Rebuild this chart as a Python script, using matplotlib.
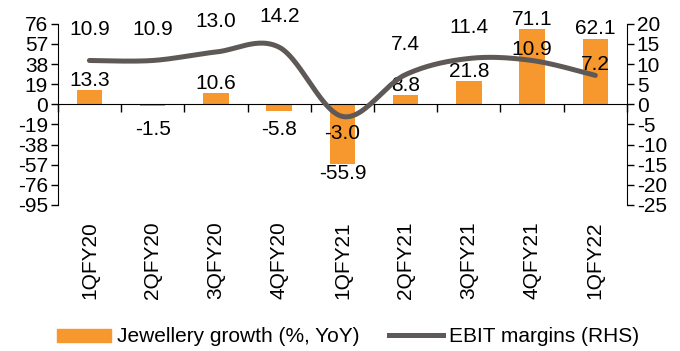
import numpy as np
import matplotlib
matplotlib.use("Agg")
import matplotlib.pyplot as plt
from matplotlib.patches import Patch
from matplotlib.lines import Line2D
import matplotlib.transforms as mtransforms

plt.rcParams['font.family'] = ['Liberation Sans', 'DejaVu Sans']
plt.rcParams['font.size'] = 15
plt.rcParams['axes.unicode_minus'] = False

quarters = ['1QFY20', '2QFY20', '3QFY20', '4QFY20', '1QFY21', '2QFY21', '3QFY21', '4QFY21', '1QFY22']
jewellery_growth = [13.3, -1.5, 10.6, -5.8, -55.9, 8.8, 21.8, 71.1, 62.1]
ebit_margin = [10.9, 10.9, 13.0, 14.2, -3.0, 7.4, 11.4, 10.9, 7.2]
left_ticks = [76, 57, 38, 19, 0, -19, -38, -57, -76, -95]
right_ticks = [20, 15, 10, 5, 0, -5, -10, -15, -20, -25]

# label offsets for the margin labels (points, + is up)
ebit_label_dy = [22, 22, 22, 22, -12, 22, 22, 8, 8]

orange = '#F7982F'
grey = '#5E5956'

fig = plt.figure(figsize=(6.8, 3.51), dpi=100)
ax = fig.add_axes([0.085, 0.416, 0.837, 0.516])
ax2 = ax.twinx()

x = np.arange(len(quarters))
ax.bar(x, jewellery_growth, width=0.4, color=orange, zorder=2)
ax.set_xlim(-0.5, len(quarters) - 0.5)
ax.set_ylim(min(left_ticks), max(left_ticks))
ax.set_yticks(left_ticks)
ax.tick_params(axis='y', direction='out', length=5, width=1, pad=2)

# x axis line at zero with ticks between categories
ax.spines['bottom'].set_position(('data', 0))
ax.spines['top'].set_visible(False)
ax.spines['right'].set_visible(False)
ax.set_xticks(np.arange(len(quarters) + 1) - 0.5)
ax.set_xticklabels([])
ax.tick_params(axis='x', direction='out', length=6, width=1)

trans = mtransforms.blended_transform_factory(ax.transData, ax.transAxes)
for i, q in enumerate(quarters):
    ax.text(i, -0.09, q, rotation=90, ha='center', va='top', transform=trans)

for i, v in enumerate(jewellery_growth):
    if v >= 0:
        ax.annotate(f'{v:.1f}', (i, v), xytext=(0, 7), textcoords='offset points',
                    ha='center', va='center', zorder=4)
    else:
        ax.annotate(f'{v:.1f}', (i, min(v, -15)), xytext=(0, -7), textcoords='offset points',
                    ha='center', va='center', zorder=4)

# smoothed line (bezier through the points, like a spreadsheet smooth line)
pts = np.column_stack([x, ebit_margin]).astype(float)
ext = np.vstack([pts[0], pts, pts[-1]])
curve = []
t = np.linspace(0, 1, 30)[:, None]
for i in range(len(pts) - 1):
    p0, p3 = ext[i + 1], ext[i + 2]
    p1 = p0 + (ext[i + 2] - ext[i]) / 6
    p2 = p3 - (ext[i + 3] - ext[i + 1]) / 6
    seg = (1 - t) ** 3 * p0 + 3 * (1 - t) ** 2 * t * p1 + 3 * (1 - t) * t ** 2 * p2 + t ** 3 * p3
    curve.append(seg)
curve = np.vstack(curve)
ax2.plot(curve[:, 0], curve[:, 1], color=grey, lw=3.6, solid_capstyle='round', zorder=3)
ax2.set_ylim(min(right_ticks), max(right_ticks))
ax2.set_yticks(right_ticks)
ax2.tick_params(axis='y', direction='out', length=5, width=1, pad=2)
for s in ['top', 'left', 'bottom']:
    ax2.spines[s].set_visible(False)

for i, v in enumerate(ebit_margin):
    ax2.annotate(f'{v:.1f}', (i, v), xytext=(0, ebit_label_dy[i]), textcoords='offset points',
                 ha='center', va='center', zorder=5)

handles = [Patch(color=orange), Line2D([0], [0], color=grey, lw=3.6)]
fig.legend(handles, ['Jewellery growth (%, YoY)', 'EBIT margins (RHS)'],
           loc='center', bbox_to_anchor=(0.512, 0.04), ncol=2, frameon=False,
           handlelength=2.6, handleheight=0.6, handletextpad=0.3, columnspacing=1.4)

fig.savefig('out.png', dpi=100)
